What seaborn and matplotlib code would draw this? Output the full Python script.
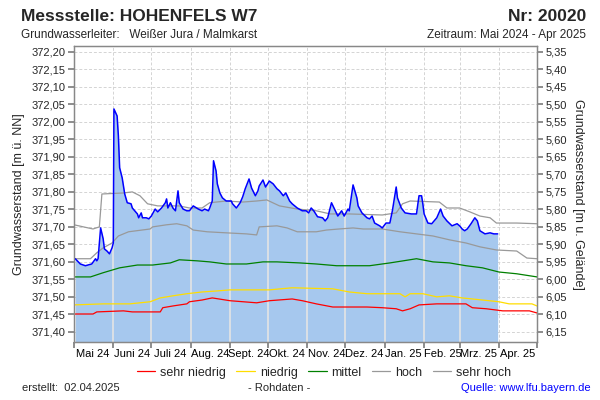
import numpy as np
import pandas as pd
import seaborn as sns
import matplotlib.pyplot as plt

sns.set_theme(style='white')
plt.rcParams['font.family'] = ['Liberation Sans', 'DejaVu Sans']

start = pd.Timestamp('2024-05-01')
gelaende = 377.55   # Geländehöhe m ü. NN

# Messwerte (Tage ab 01.05.2024 / m ü. NN)
mess_tage = [1, 5, 9, 14, 17, 18, 19, 21, 23, 24, 26, 28, 30, 31, 31.5, 34, 35, 36, 38, 40,
             42, 45, 46, 50, 51, 53, 54, 57, 59, 61, 64, 66, 69, 72, 73, 74, 76, 78, 80, 82,
             83, 86, 89, 91, 94, 98, 101, 103, 106, 107, 109, 110, 112, 113, 115, 117, 120, 124, 125, 128,
             131, 133, 135, 138, 140, 143, 145, 146, 149, 151, 154, 157, 160, 162, 165, 167, 170, 172, 176, 180,
             183, 185, 187, 189, 192, 196, 198, 200, 203, 206, 208, 211, 213, 216, 217, 220, 223, 224, 227, 231,
             233, 235, 237, 241, 243, 246, 249, 251, 254, 255, 258, 261, 266, 270, 272, 274, 275, 276, 279, 282,
             286, 289, 291, 294, 298, 302, 304, 306, 308, 310, 313, 316, 318, 320, 324, 328, 331, 334]
mess_werte = [371.609, 371.594, 371.589, 371.594, 371.609, 371.603, 371.609, 371.697, 371.666, 371.637,
              371.631, 371.623, 371.640, 371.654, 372.037, 372.017, 371.960, 371.869, 371.840, 371.794,
              371.769, 371.766, 371.754, 371.737, 371.726, 371.740, 371.726, 371.726, 371.723, 371.731,
              371.751, 371.743, 371.754, 371.769, 371.780, 371.754, 371.769, 371.754, 371.746, 371.803,
              371.769, 371.751, 371.746, 371.746, 371.760, 371.751, 371.746, 371.751, 371.746, 371.754,
              371.774, 371.889, 371.860, 371.823, 371.797, 371.783, 371.774, 371.774, 371.766, 371.754,
              371.769, 371.786, 371.809, 371.837, 371.811, 371.789, 371.803, 371.817, 371.834, 371.814,
              371.831, 371.823, 371.809, 371.803, 371.789, 371.797, 371.774, 371.766, 371.754, 371.746,
              371.746, 371.740, 371.754, 371.746, 371.729, 371.726, 371.717, 371.726, 371.769, 371.746,
              371.731, 371.746, 371.731, 371.751, 371.746, 371.820, 371.783, 371.760, 371.740, 371.726,
              371.723, 371.731, 371.711, 371.703, 371.697, 371.711, 371.711, 371.746, 371.814, 371.783,
              371.754, 371.740, 371.737, 371.737, 371.789, 371.789, 371.766, 371.737, 371.711, 371.709,
              371.726, 371.751, 371.731, 371.717, 371.703, 371.709, 371.703, 371.694, 371.689, 371.694,
              371.709, 371.726, 371.717, 371.689, 371.680, 371.683, 371.680, 371.680]

# Kennwerte
sh_tage = [0, 15, 20, 22, 39, 46, 52, 58, 66, 83, 91, 101, 107, 120, 133, 144, 152, 162, 176, 191,
           202, 217, 243, 254, 259, 265, 288, 294, 304, 312, 320, 328, 333, 349, 365]
sh_werte = [371.706, 371.694, 371.700, 371.794, 371.797, 371.800, 371.789, 371.766, 371.760, 371.760,
            371.754, 371.754, 371.769, 371.774, 371.771, 371.774, 371.777, 371.760, 371.751, 371.746,
            371.737, 371.737, 371.734, 371.740, 371.766, 371.774, 371.771, 371.754, 371.754, 371.743,
            371.731, 371.726, 371.711, 371.711, 371.709]

h_tage = [0, 13, 18, 23, 30, 35, 43, 60, 62, 73, 81, 89, 94, 105, 120, 136, 144, 146, 160, 168,
          176, 191, 199, 209, 220, 228, 243, 257, 270, 283, 296, 309, 320, 333, 349, 357, 365]
h_werte = [371.609, 371.609, 371.626, 371.640, 371.654, 371.674, 371.686, 371.694, 371.700, 371.706,
           371.709, 371.703, 371.691, 371.686, 371.683, 371.680, 371.677, 371.700, 371.703, 371.697,
           371.686, 371.686, 371.691, 371.694, 371.697, 371.694, 371.694, 371.686, 371.680, 371.674,
           371.663, 371.654, 371.643, 371.634, 371.631, 371.611, 371.609]

m_tage = [0, 13, 23, 36, 50, 62, 76, 83, 97, 107, 120, 136, 149, 160, 178, 191, 207, 233, 249, 270,
          283, 296, 309, 322, 335, 349, 365]
m_werte = [371.557, 371.557, 371.569, 371.583, 371.591, 371.591, 371.597, 371.606, 371.603, 371.600,
           371.594, 371.594, 371.600, 371.600, 371.597, 371.594, 371.589, 371.589, 371.597, 371.609,
           371.600, 371.597, 371.589, 371.583, 371.571, 371.566, 371.557]

n_tage = [0, 23, 44, 60, 68, 78, 89, 101, 113, 123, 154, 172, 204, 217, 231, 257, 261, 265, 275, 286,
          296, 306, 322, 335, 343, 361, 365]
n_werte = [371.477, 371.480, 371.480, 371.486, 371.497, 371.503, 371.509, 371.514, 371.517, 371.520,
           371.520, 371.526, 371.523, 371.514, 371.509, 371.509, 371.500, 371.509, 371.509, 371.500,
           371.503, 371.497, 371.491, 371.486, 371.480, 371.480, 371.474]

sn_tage = [0, 15, 18, 39, 46, 68, 70, 78, 89, 91, 101, 109, 123, 144, 154, 172, 180, 191, 204, 231,
           243, 254, 259, 265, 272, 286, 309, 314, 325, 338, 359, 365]
sn_werte = [371.451, 371.451, 371.457, 371.460, 371.457, 371.457, 371.469, 371.474, 371.480, 371.486,
            371.491, 371.497, 371.489, 371.483, 371.489, 371.494, 371.489, 371.480, 371.471, 371.471,
            371.469, 371.466, 371.460, 371.466, 371.477, 371.480, 371.480, 371.469, 371.466, 371.460,
            371.460, 371.454]

monats_namen = ['Mai 24', 'Juni 24', 'Juli 24', 'Aug. 24', 'Sept. 24', 'Okt. 24', 'Nov. 24',
                'Dez. 24', 'Jan. 25', 'Feb. 25', 'Mrz. 25', 'Apr. 25']


def datum(tage):
    return start + pd.to_timedelta(np.array(tage, dtype=float), unit='D')


fig = plt.figure(figsize=(6, 4), dpi=100)
ax = fig.add_axes([0.1233, 0.145, 0.7717, 0.74])

ymin, ymax = 371.371, 372.217
ax.set_ylim(ymin, ymax)
monate = pd.date_range('2024-05-01', '2025-05-01', freq='MS')
ax.set_xlim(monate[0], monate[-1])

ax.set_axisbelow(True)
ax.grid(True, ls=(0, (3, 2)), color='#d4d4d4', lw=0.7)

# Messwerte als Fläche
poly = ax.fill_between(datum(mess_tage), mess_werte, 371.0, color='#a6c8ee', lw=0, zorder=1)
for m in monate[1:-1]:
    ln = ax.axvline(m, color='#e4e4e4', lw=1.2, zorder=1.5)
    ln.set_clip_path(poly.get_paths()[0], poly.get_transform())

sns.lineplot(x=datum(sn_tage), y=sn_werte, ax=ax, color='#ff0000', lw=0.9, label='sehr niedrig', zorder=3)
sns.lineplot(x=datum(n_tage), y=n_werte, ax=ax, color='#ffdd00', lw=0.9, label='niedrig', zorder=3)
sns.lineplot(x=datum(m_tage), y=m_werte, ax=ax, color='#008000', lw=0.9, label='mittel', zorder=3)
sns.lineplot(x=datum(h_tage), y=h_werte, ax=ax, color='#999999', lw=0.9, label='hoch', zorder=3)
sns.lineplot(x=datum(sh_tage), y=sh_werte, ax=ax, color='#999999', lw=0.9, label='sehr hoch', zorder=3)
sns.lineplot(x=datum(mess_tage), y=mess_werte, ax=ax, color='#0000ff', lw=1.1, zorder=4)

handles, labels = ax.get_legend_handles_labels()
ax.get_legend().remove()
fig.legend(handles[:5], labels[:5], loc='center', bbox_to_anchor=(0.54, 0.068), ncol=5,
           frameon=False, fontsize=9, handlelength=1.5, handletextpad=0.4, columnspacing=0.8)

# Achsen
yt = np.round(np.arange(371.40, 372.2001, 0.05), 2)
ax.set_yticks(yt)
ax.set_yticklabels([f'{v:.2f}'.replace('.', ',') for v in yt])
ax.set_xticks(monate)
ax.set_xticklabels([])
ax.set_xticks(monate[:-1] + pd.Timedelta(days=15), minor=True)
ax.set_xticklabels(monats_namen, minor=True)
ax.tick_params(axis='x', which='minor', length=0, labelsize=8, pad=5, colors='black')
ax.tick_params(axis='x', which='major', length=4, color='#808080', direction='out', bottom=True)
ax.tick_params(axis='y', length=4, color='#808080', direction='out', labelsize=8, left=True, pad=2)
ax.set_xlabel('')
ax.set_ylabel('Grundwasserstand [m ü. NN]', fontsize=9, labelpad=5)
for s in ax.spines.values():
    s.set_color('#888888')
    s.set_linewidth(0.9)

ax2 = ax.twinx()
ax2.set_ylim(gelaende - ymin, gelaende - ymax)
yt2 = np.round(np.arange(5.35, 6.1501, 0.05), 2)
ax2.set_yticks(yt2)
ax2.set_yticklabels([f'{v:.2f}'.replace('.', ',') for v in yt2])
ax2.tick_params(axis='y', length=4, color='#808080', direction='out', labelsize=8, right=True, pad=2)
ax2.set_ylabel('Grundwasserstand [m u. Gelände]', fontsize=9, rotation=270, labelpad=12)
ax2.grid(False)
for s in ax2.spines.values():
    s.set_color('#888888')
    s.set_linewidth(0.9)

# Texte
fig.text(0.035, 0.947, 'Messstelle: HOHENFELS W7', fontsize=12.5, fontweight='bold', va='baseline')
fig.text(0.977, 0.947, 'Nr: 20020', fontsize=12.5, fontweight='bold', ha='right', va='baseline')
fig.text(0.035, 0.905, 'Grundwasserleiter:   Weißer Jura / Malmkarst', fontsize=8.5, va='baseline')
fig.text(0.977, 0.905, 'Zeitraum: Mai 2024 - Apr 2025', fontsize=8.5, ha='right', va='baseline')
fig.text(0.037, 0.022, 'erstellt:  02.04.2025', fontsize=8, va='baseline')
fig.text(0.465, 0.022, '- Rohdaten -', fontsize=8, ha='center', va='baseline')
fig.text(0.985, 0.022, 'Quelle: www.lfu.bayern.de', fontsize=8, ha='right', va='baseline', color='#0000ff')

fig.savefig('out.png', dpi=100)
